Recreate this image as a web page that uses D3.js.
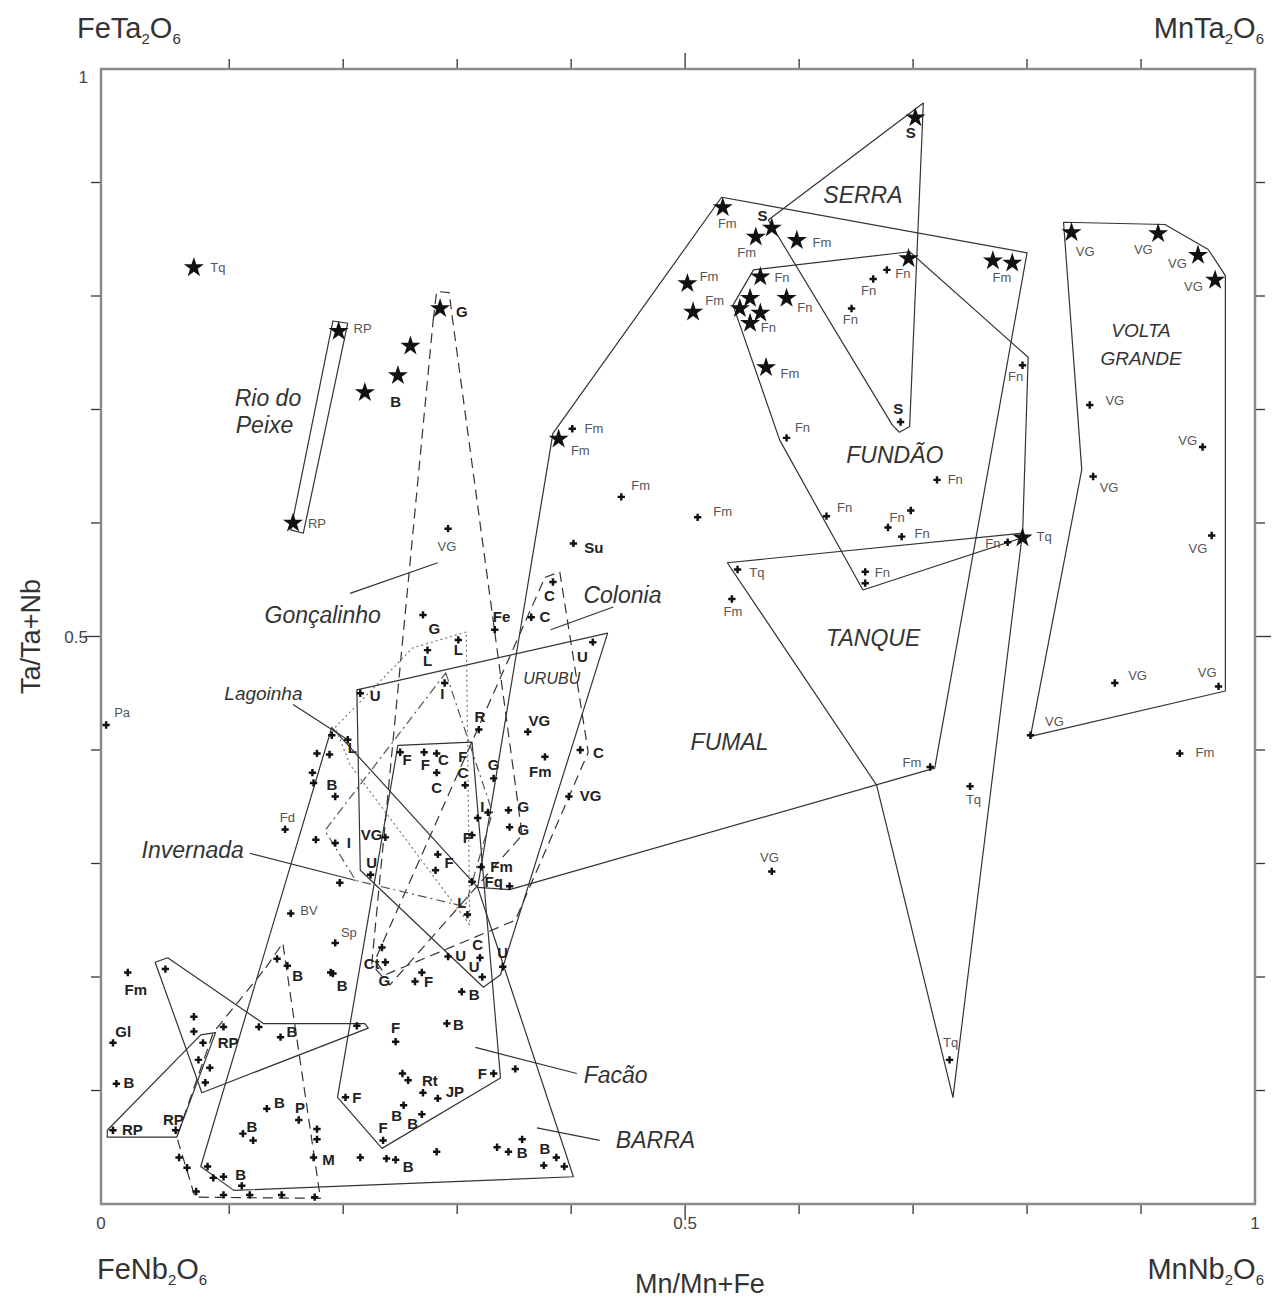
<!DOCTYPE html>
<html>
<head>
<meta charset="utf-8">
<script src="https://cdn.jsdelivr.net/npm/d3@7"></script>
<style>
  body { margin: 0; background: #fff; }
  svg { display: block; font-family: "Liberation Sans", Arial, sans-serif; }
  .frame { fill: none; stroke: #8a8a8a; stroke-width: 2.5; }
  .tick-line { stroke: #333; stroke-width: 1.3; }
  .tick-label { font-size: 17px; fill: #444; }
  .corner { font-size: 29px; fill: #333; }
  .axis-title { font-size: 27px; fill: #333; }
  .field { fill: none; stroke: #333; stroke-width: 1.2; stroke-linejoin: round; }
  .field.dashed { stroke-dasharray: 10,6; }
  .field.dotted { stroke: #777; stroke-dasharray: 2,3; }
  .field.dashdot { stroke: #555; stroke-dasharray: 9,4,2,4; }
  .pointer { stroke: #333; stroke-width: 1.2; }
  .star { fill: #111; }
  .dot { fill: #111; }
  .lbl { font-size: 13px; fill: #555; }
  .lbl.bold { font-size: 15px; font-weight: bold; fill: #222; }
  .region { font-size: 23px; font-style: italic; fill: #333; }
  .region.small { font-size: 19px; }
  .region.urubu { font-size: 16px; }
</style>
</head>
<body>
<div id="chart"></div>
<script>
// ---- Data: [Mn/Mn+Fe, Ta/Ta+Nb] ----

// Star symbols
var starPoints = [
  [0.069,0.825],[0.196,0.769],[0.156,0.600],[0.259,0.756],[0.248,0.730],[0.219,0.715],
  [0.285,0.789],[0.389,0.674],[0.533,0.878],[0.576,0.860],[0.562,0.852],[0.598,0.849],
  [0.502,0.811],[0.507,0.786],[0.566,0.817],[0.557,0.798],[0.548,0.789],[0.566,0.785],
  [0.557,0.776],[0.589,0.798],[0.571,0.737],[0.696,0.833],[0.702,0.957],[0.770,0.831],
  [0.787,0.829],[0.796,0.587],[0.839,0.856],[0.915,0.855],[0.950,0.836],[0.965,0.814]
];

// Small cross symbols
var dotPoints = [
  [-0.008,0.422],[0.292,0.595],[0.270,0.519],[0.333,0.506],[0.365,0.517],[0.384,0.548],
  [0.401,0.683],[0.444,0.623],[0.511,0.605],[0.402,0.582],[0.589,0.675],[0.721,0.638],
  [0.624,0.606],[0.698,0.611],[0.678,0.596],[0.690,0.588],[0.783,0.583],[0.658,0.557],
  [0.658,0.547],[0.546,0.559],[0.541,0.533],[0.715,0.385],[0.750,0.368],[0.576,0.293],
  [0.732,0.127],[0.677,0.823],[0.665,0.815],[0.646,0.789],[0.796,0.739],[0.689,0.689],
  [0.855,0.704],[0.954,0.667],[0.858,0.641],[0.962,0.589],[0.877,0.459],[0.968,0.456],
  [0.803,0.413],[0.934,0.397],
  [0.215,0.450],[0.419,0.495],[0.289,0.459],[0.319,0.418],[0.362,0.416],[0.408,0.400],
  [0.377,0.394],[0.398,0.359],[0.301,0.497],[0.274,0.488],[0.190,0.413],[0.204,0.409],
  [0.177,0.397],[0.188,0.396],[0.250,0.398],[0.271,0.398],[0.282,0.397],[0.173,0.380],
  [0.174,0.371],[0.193,0.359],[0.282,0.380],[0.307,0.369],[0.332,0.375],[0.327,0.345],
  [0.318,0.340],[0.345,0.347],[0.346,0.332],[0.149,0.330],[0.176,0.321],[0.193,0.318],
  [0.237,0.323],[0.224,0.290],[0.313,0.325],[0.283,0.308],[0.281,0.294],[0.321,0.297],
  [0.313,0.284],[0.346,0.280],[0.197,0.283],[0.309,0.255],[0.154,0.256],[0.193,0.230],
  [0.142,0.216],[0.151,0.210],[0.189,0.204],[0.191,0.203],[0.234,0.226],[0.237,0.213],
  [0.011,0.204],[-0.002,0.142],[0.001,0.106],[-0.002,0.065],[0.053,0.065],[0.069,0.165],
  [0.069,0.152],[0.077,0.142],[0.095,0.156],[0.073,0.127],[0.083,0.120],[0.079,0.107],
  [0.044,0.207],[0.126,0.156],[0.145,0.147],[0.212,0.157],[0.133,0.084],[0.161,0.074],
  [0.112,0.062],[0.121,0.056],[0.177,0.066],[0.177,0.057],[0.174,0.041],[0.215,0.041],
  [0.238,0.040],[0.246,0.039],[0.056,0.041],[0.063,0.032],[0.081,0.033],[0.086,0.023],
  [0.095,0.024],[0.111,0.016],[0.071,0.011],[0.095,0.008],[0.118,0.008],[0.146,0.008],
  [0.175,0.006],[0.246,0.143],[0.202,0.094],[0.235,0.056],[0.263,0.196],[0.269,0.204],
  [0.292,0.218],[0.320,0.217],[0.322,0.200],[0.340,0.209],[0.304,0.187],[0.291,0.159],
  [0.252,0.115],[0.257,0.109],[0.270,0.098],[0.283,0.093],[0.332,0.115],[0.351,0.119],
  [0.253,0.087],[0.269,0.079],[0.282,0.046],[0.335,0.050],[0.345,0.046],[0.357,0.057],
  [0.387,0.041],[0.376,0.034],[0.394,0.033]
];

// Sample labels, regular: [text, x, y]
var plainLabels = [
  ["Tq",0.090,0.825],["RP",0.217,0.771],["RP",0.177,0.600],["VG",0.291,0.579],
  ["Fm",0.537,0.864],["Fm",0.554,0.838],["Fm",0.620,0.847],["Fm",0.521,0.817],
  ["Fm",0.526,0.796],["Fn",0.585,0.816],["Fn",0.573,0.772],["Fn",0.605,0.790],
  ["Fm",0.592,0.732],["Fn",0.603,0.684],["Fn",0.691,0.820],["Fn",0.661,0.805],
  ["Fn",0.645,0.779],["Fm",0.778,0.816],["Fn",0.790,0.729],["Fm",0.420,0.683],
  ["Fm",0.408,0.664],["Fm",0.461,0.633],["Fm",0.533,0.610],["Fn",0.737,0.638],
  ["Fn",0.640,0.614],["Fn",0.686,0.605],["Fn",0.708,0.591],["Fn",0.770,0.582],
  ["Tq",0.815,0.588],["Fn",0.673,0.556],["Tq",0.563,0.556],["Fm",0.542,0.522],
  ["Fm",0.699,0.389],["Tq",0.753,0.356],["VG",0.574,0.305],["Tq",0.733,0.142],
  ["VG",0.851,0.839],["VG",0.902,0.841],["VG",0.932,0.829],["VG",0.946,0.808],
  ["VG",0.877,0.708],["VG",0.941,0.673],["VG",0.872,0.631],["VG",0.950,0.578],
  ["VG",0.897,0.466],["VG",0.958,0.468],["VG",0.824,0.425],["Fm",0.956,0.398],
  ["Pa",0.006,0.433],["Fd",0.151,0.341],["BV",0.170,0.259],["Sp",0.205,0.239]
];

// Sample labels, bold: [text, x, y]
var boldLabels = [
  ["G",0.304,0.786],["B",0.246,0.707],["S",0.568,0.871],["S",0.698,0.944],["S",0.687,0.701],
  ["Su",0.420,0.578],["G",0.280,0.507],["Fe",0.339,0.517],["C",0.377,0.517],["C",0.381,0.536],
  ["L",0.301,0.488],["L",0.274,0.479],["U",0.228,0.448],["U",0.410,0.482],["I",0.287,0.450],
  ["R",0.320,0.429],["VG",0.372,0.426],["C",0.424,0.398],["Fm",0.373,0.381],["VG",0.417,0.360],
  ["L",0.208,0.402],["F",0.256,0.391],["F",0.272,0.387],["C",0.288,0.391],["F",0.305,0.394],
  ["B",0.190,0.369],["C",0.282,0.367],["C",0.305,0.380],["G",0.332,0.387],["I",0.322,0.350],
  ["G",0.358,0.350],["G",0.358,0.330],["I",0.205,0.318],["VG",0.225,0.325],["U",0.225,0.301],
  ["F",0.309,0.323],["F",0.293,0.301],["Fm",0.339,0.297],["Fq",0.332,0.284],["L",0.304,0.265],
  ["Ct",0.225,0.212],["G",0.236,0.197],["B",0.160,0.201],["B",0.199,0.192],["F",0.275,0.196],
  ["U",0.303,0.219],["C",0.318,0.228],["U",0.315,0.209],["U",0.340,0.221],["B",0.315,0.184],
  ["Fm",0.018,0.189],["Gl",0.007,0.152],["B",0.012,0.107],["RP",0.015,0.065],["RP",0.051,0.074],
  ["RP",0.099,0.142],["B",0.155,0.152],["F",0.246,0.155],["B",0.301,0.158],["Rt",0.276,0.109],
  ["JP",0.298,0.099],["F",0.322,0.115],["F",0.212,0.094],["B",0.144,0.089],["P",0.162,0.085],
  ["B",0.120,0.068],["B",0.247,0.078],["B",0.261,0.071],["F",0.235,0.067],["M",0.187,0.039],
  ["B",0.110,0.026],["B",0.257,0.033],["B",0.357,0.045],["B",0.377,0.049]
];

// Deposit field outlines
var serraField = [[0.709,0.970],[0.697,0.685],[0.688,0.680],[0.682,0.686],[0.573,0.867]];
var fumalField = [[0.384,0.679],[0.532,0.887],[0.800,0.838],[0.719,0.384],[0.346,0.277],[0.318,0.279]];
var fundaoField = [[0.560,0.823],[0.697,0.839],[0.801,0.746],[0.796,0.587],[0.656,0.541],[0.583,0.673],[0.542,0.792]];
var tanqueField = [[0.537,0.565],[0.796,0.591],[0.735,0.094],[0.668,0.369]];
var voltaGrandeField = [[0.832,0.865],[0.921,0.863],[0.959,0.841],[0.974,0.818],[0.974,0.452],[0.803,0.412],[0.848,0.647]];
var rioPeixeField = [[0.191,0.778],[0.204,0.776],[0.165,0.591],[0.154,0.594]];
var urubuField = [[0.212,0.453],[0.432,0.503],[0.338,0.202],[0.323,0.191],[0.215,0.294]];
var facaoField = [[0.248,0.404],[0.313,0.407],[0.338,0.111],[0.234,0.049],[0.195,0.094]];
var barraField = [[0.190,0.420],[0.318,0.279],[0.402,0.024],[0.104,0.012],[0.075,0.033]];
var lowerField = [[0.035,0.213],[0.046,0.217],[0.130,0.159],[0.219,0.159],[0.222,0.155],[0.076,0.098]];
var rpField = [[-0.007,0.059],[0.054,0.059],[0.088,0.151],[0.075,0.149],[-0.007,0.065]];
var pegField = [[0.132,0.208],[0.147,0.230],[0.180,0.005],[0.070,0.006],[0.054,0.059],[0.086,0.151]];
var goncalinhoField = [[0.279,0.779],[0.282,0.804],[0.293,0.803],[0.296,0.779],[0.357,0.325],[0.241,0.193],[0.225,0.211]];
var coloniaField = [[0.377,0.552],[0.390,0.557],[0.415,0.398],[0.351,0.250],[0.237,0.202],[0.228,0.215]];
var lagoinhaField = [[0.308,0.504],[0.261,0.490],[0.193,0.420],[0.206,0.387],[0.311,0.246]];
var invernadaField = [[0.290,0.468],[0.331,0.345],[0.307,0.262],[0.211,0.285],[0.184,0.329]];

// Field names: [text, x, y]
var regionLabels = [
  ["SERRA",0.656,0.889],["FUNDÃO",0.684,0.660],["TANQUE",0.665,0.499],["FUMAL",0.539,0.407],
  ["Rio do",0.134,0.710],["Peixe",0.131,0.686],["Gonçalinho",0.182,0.519],["Colonia",0.445,0.537],
  ["Invernada",0.068,0.312],["Facão",0.439,0.114],["BARRA",0.474,0.056]
];
var smallRegionLabels = [["VOLTA",0.900,0.770],["GRANDE",0.900,0.745],["Lagoinha",0.130,0.450]];
var urubuLabel = ["URUBU",0.383,0.463];

// Leader lines from names to fields
var pointerLines = [
  [[0.206,0.538],[0.283,0.565]], [[0.382,0.506],[0.437,0.526]], [[0.156,0.440],[0.204,0.409]],
  [[0.118,0.309],[0.211,0.285]], [[0.316,0.138],[0.405,0.115]], [[0.370,0.067],[0.425,0.056]]
];

// Ticks and tick labels
var tickValues = [0.1,0.2,0.3,0.4,0.5,0.6,0.7,0.8,0.9];
var xTickLabels = [[0,"0"],[0.5,"0.5"],[1,"1"]];
var yTickLabels = [[1,"1"],[0.5,"0.5"]];

// ---- Chart ----
var width = 1273, height = 1301;

var svg = d3.select("#chart").append("svg")
    .attr("width", width)
    .attr("height", height);

// Scales (the frame starts a little left of Mn/Mn+Fe = 0)
var x = d3.scaleLinear().domain([-0.0125, 1]).range([101, 1255]);
var y = d3.scaleLinear().domain([0, 1]).range([1204, 69]);

var line = d3.line().x(function(d) { return x(d[0]); }).y(function(d) { return y(d[1]); });

/* Draw the frame and ticks
*/
function drawAxes() {
  var x0 = x.range()[0], x1 = x.range()[1];
  var y0 = y.range()[0], y1 = y.range()[1];
  var tickLen = function(d) { return d === 0.5 ? 16 : 10; };

  var ticks = svg.append("g").attr("class", "ticks");
  // top & bottom
  ticks.selectAll(".tt").data(tickValues).enter().append("line")
    .attr("class", "tick-line")
    .attr("x1", function(d) { return x(d); }).attr("x2", function(d) { return x(d); })
    .attr("y1", y1).attr("y2", function(d) { return y1 - tickLen(d); });
  ticks.selectAll(".tb").data(tickValues).enter().append("line")
    .attr("class", "tick-line")
    .attr("x1", function(d) { return x(d); }).attr("x2", function(d) { return x(d); })
    .attr("y1", y0).attr("y2", function(d) { return y0 + tickLen(d); });
  // left & right
  ticks.selectAll(".tl").data(tickValues).enter().append("line")
    .attr("class", "tick-line")
    .attr("y1", function(d) { return y(d); }).attr("y2", function(d) { return y(d); })
    .attr("x1", x0).attr("x2", function(d) { return x0 - tickLen(d); });
  ticks.selectAll(".tr").data(tickValues).enter().append("line")
    .attr("class", "tick-line")
    .attr("y1", function(d) { return y(d); }).attr("y2", function(d) { return y(d); })
    .attr("x1", x1).attr("x2", function(d) { return x1 + tickLen(d); });

  svg.append("rect")
    .attr("class", "frame")
    .attr("x", x0).attr("y", y1)
    .attr("width", x1 - x0).attr("height", y0 - y1);

  // tick labels
  svg.selectAll(".xtl").data(xTickLabels).enter().append("text")
    .attr("class", "tick-label")
    .attr("x", function(d) { return d[0] === 0 ? x0 : x(d[0]); })
    .attr("y", y0 + 25)
    .attr("text-anchor", "middle")
    .text(function(d) { return d[1]; });
  svg.selectAll(".ytl").data(yTickLabels).enter().append("text")
    .attr("class", "tick-label")
    .attr("x", x0 - 13)
    .attr("y", function(d) { return d[0] === 1 ? y(d[0]) + 14 : y(d[0]) + 6; })
    .attr("text-anchor", "end")
    .text(function(d) { return d[1]; });
}

/* Formula text with subscripts
*/
function formula(px, py, parts, anchor) {
  var t = svg.append("text")
    .attr("class", "corner")
    .attr("x", px).attr("y", py)
    .attr("text-anchor", anchor);
  parts.forEach(function(p) {
    t.append("tspan")
      .attr("font-size", p[1] ? "15px" : null)
      .attr("dy", p[1] ? 6 : (p[2] ? -6 : null))
      .text(p[0]);
  });
}

/* Axis titles and end-member names
*/
function drawTitles() {
  formula(77, 38, [["FeTa"],["2",1],["O",0,1],["6",1]], "start");
  formula(1264, 38, [["MnTa"],["2",1],["O",0,1],["6",1]], "end");
  formula(97, 1279, [["FeNb"],["2",1],["O",0,1],["6",1]], "start");
  formula(1264, 1279, [["MnNb"],["2",1],["O",0,1],["6",1]], "end");

  svg.append("text")
    .attr("class", "axis-title")
    .attr("x", 700)
    .attr("y", 1293)
    .attr("text-anchor", "middle")
    .text("Mn/Mn+Fe");

  svg.append("text")
    .attr("class", "axis-title")
    .attr("transform", "translate(40," + y(0.5) + ") rotate(-90)")
    .attr("text-anchor", "middle")
    .text("Ta/Ta+Nb");
}

/* Field outlines and leader lines
*/
function drawFields() {
  var groups = [
    ["field", [serraField, fumalField, fundaoField, tanqueField, voltaGrandeField,
               rioPeixeField, urubuField, facaoField, barraField, lowerField, rpField]],
    ["field dashed", [pegField, goncalinhoField, coloniaField]],
    ["field dotted", [lagoinhaField]],
    ["field dashdot", [invernadaField]]
  ];
  var g = svg.append("g").attr("class", "fields");
  groups.forEach(function(grp) {
    g.selectAll(null).data(grp[1]).enter().append("path")
      .attr("class", grp[0])
      .attr("d", function(d) { return line(d) + "Z"; });
  });

  g.selectAll(".pointer").data(pointerLines).enter().append("path")
    .attr("class", "pointer")
    .attr("d", line);
}

/* Sample symbols
*/
function drawPoints() {
  var star = d3.symbol().type(d3.symbolStar).size(125);
  var cross = d3.symbol().type(d3.symbolCross).size(30);

  svg.append("g").selectAll("path").data(dotPoints).enter().append("path")
    .attr("class", "dot")
    .attr("d", cross)
    .attr("transform", function(d) { return "translate(" + x(d[0]) + "," + y(d[1]) + ")"; });

  svg.append("g").selectAll("path").data(starPoints).enter().append("path")
    .attr("class", "star")
    .attr("d", star)
    .attr("transform", function(d) { return "translate(" + x(d[0]) + "," + y(d[1]) + ")"; });
}

/* Add a set of labels with one class
*/
function addLabels(g, data, cls) {
  g.selectAll(null).data(data).enter().append("text")
    .attr("class", cls)
    .attr("x", function(d) { return x(d[1]); })
    .attr("y", function(d) { return y(d[2]); })
    .attr("dy", "0.35em")
    .attr("text-anchor", "middle")
    .text(function(d) { return d[0]; });
}

/* Sample and field labels
*/
function drawLabels() {
  var lbl = svg.append("g");
  addLabels(lbl, plainLabels, "lbl");
  addLabels(lbl, boldLabels, "lbl bold");
  addLabels(lbl, regionLabels, "region");
  addLabels(lbl, smallRegionLabels, "region small");
  addLabels(lbl, [urubuLabel], "region urubu");
}

drawAxes();
drawFields();
drawPoints();
drawLabels();
drawTitles();
</script>
</body>
</html>
